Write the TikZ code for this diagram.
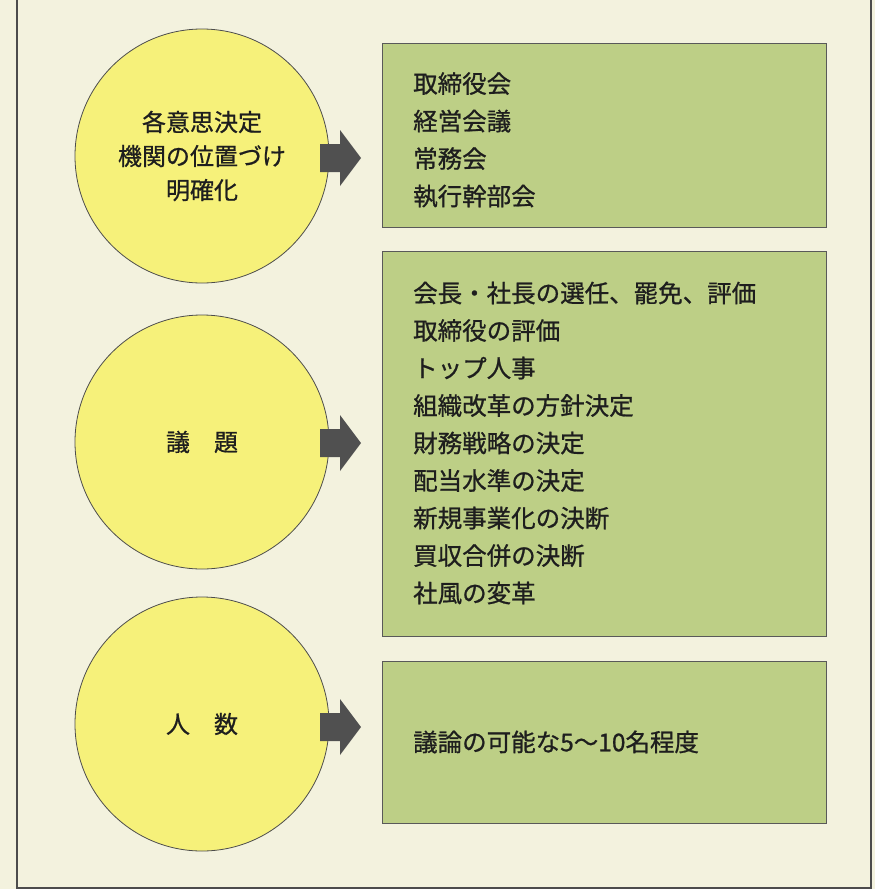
\documentclass[tikz,border=0pt]{standalone}
\usepackage{fontspec}
\setmainfont{Noto Sans CJK JP}[FakeBold=0.8]
\definecolor{bgcream}{HTML}{F3F2DE}
\definecolor{circyellow}{HTML}{F6F17A}
\definecolor{boxgreen}{HTML}{BDCF86}
\definecolor{arrowgrey}{HTML}{505050}
\definecolor{inkdark}{HTML}{1E1E1E}
\begin{document}
\begin{tikzpicture}[x=1pt,y=-1pt,
  circ/.style={circle, draw=black!70, line width=0.8pt, fill=circyellow, minimum size=254pt, inner sep=0pt,
    font=\fontsize{24}{34}\selectfont, text=inkdark, align=center},
  gbox/.style={draw=black!65, line width=0.9pt, fill=boxgreen, anchor=north west, inner sep=0pt},
  btext/.style={anchor=west, align=left, font=\fontsize{24.5}{37.5}\selectfont, text=inkdark, inner sep=0pt},
  fatarrow/.style={fill=arrowgrey}
]
\useasboundingbox (0,0) rectangle (875,889);
\fill[bgcream] (0,0) rectangle (875,889);
\draw[black!70, line width=1.2pt] (17,0) -- (17,888) -- (871,888) -- (871,0);

% circles
\node[circ] (c1) at (202,156) {各意思決定\\機関の位置づけ\\明確化};
\node[circ] (c2) at (202,442) {議\hspace{1em}題};
\node[circ] (c3) at (202,724) {人\hspace{1em}数};

% boxes
\node[gbox, minimum width=444pt, minimum height=184pt] (b1) at (382,43) {};
\node[gbox, minimum width=444pt, minimum height=385pt] (b2) at (382,251) {};
\node[gbox, minimum width=444pt, minimum height=162pt] (b3) at (382,661) {};

% box texts
\node[btext] (t1) at (413,140) {取締役会\\経営会議\\常務会\\執行幹部会};
\node[btext] (t2) at (413,443) {会長・社長の選任、罷免、評価\\取締役の評価\\トップ人事\\組織改革の方針決定\\財務戦略の決定\\配当水準の決定\\新規事業化の決断\\買収合併の決断\\社風の変革};
\node[btext] (t3) at (413,742) {議論の可能な5～10名程度};

% arrows
\coordinate (a1) at (320,158);
\coordinate (a2) at (320,443);
\coordinate (a3) at (320,727);
\foreach \a in {a1,a2,a3}{
  \fill[fatarrow] (\a) ++(0,-14) -- ++(20,0) -- ++(0,-14) -- ++(21,28) -- ++(-21,28) -- ++(0,-14) -- ++(-20,0) -- cycle;
}
\end{tikzpicture}
\end{document}
